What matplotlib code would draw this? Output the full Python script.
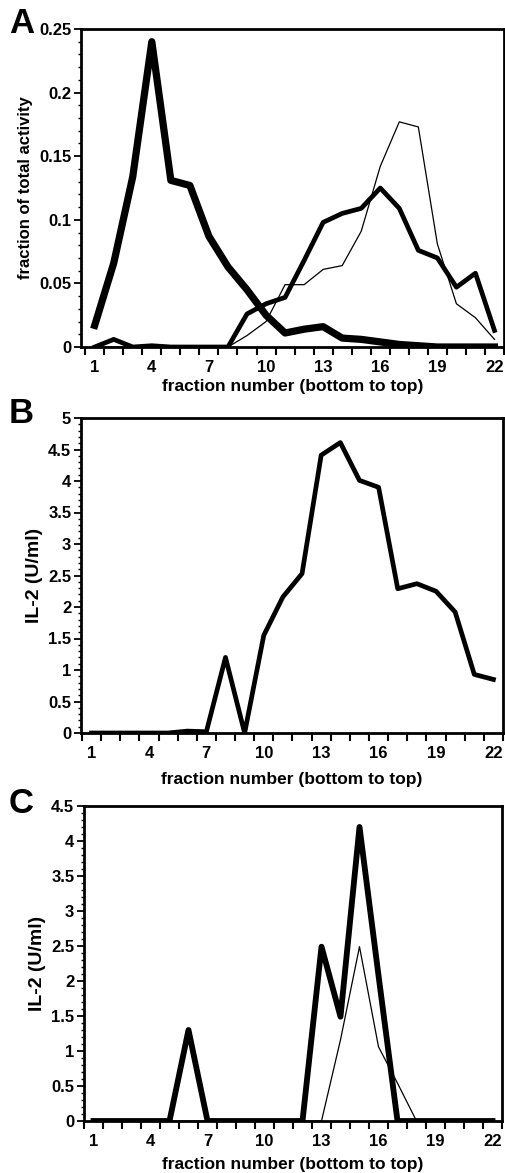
import matplotlib
matplotlib.use("Agg")
import matplotlib.pyplot as plt
from matplotlib.ticker import FixedLocator, MultipleLocator, FuncFormatter

plt.rcParams['font.family'] = ['Liberation Sans', 'DejaVu Sans']
plt.rcParams['font.weight'] = 'bold'

fractions = list(range(1, 23))
tick_labels = [1, 4, 7, 10, 13, 16, 19, 22]

# Panel A: fraction of total activity
a_heavy = [0.017, 0.066, 0.134, 0.240, 0.131, 0.127, 0.087, 0.063, 0.045, 0.025, 0.011,
           0.014, 0.016, 0.007, 0.006, 0.004, 0.002, 0.001, 0.0, 0.0, 0.0, 0.0]
a_medium = [0.0, 0.006, 0.0, 0.001, 0.0, 0.0, 0.0, 0.0, 0.026, 0.034, 0.039,
            0.068, 0.098, 0.105, 0.109, 0.125, 0.109, 0.076, 0.070, 0.047, 0.058, 0.013]
a_thin = [0.0, 0.0, 0.0, 0.0, 0.0, 0.0, 0.0, 0.0, 0.009, 0.02, 0.049,
          0.049, 0.061, 0.064, 0.091, 0.142, 0.177, 0.173, 0.081, 0.034, 0.023, 0.006]

# Panel B: IL-2 (U/ml)
b_vals = [0.0, 0.0, 0.0, 0.0, 0.0, 0.03, 0.02, 1.20, 0.0, 1.55, 2.16,
          2.53, 4.41, 4.61, 4.01, 3.90, 2.29, 2.37, 2.25, 1.92, 0.93, 0.85]

# Panel C: IL-2 (U/ml)
c_heavy = [0.0, 0.0, 0.0, 0.0, 0.0, 1.30, 0.0, 0.0, 0.0, 0.0, 0.0,
           0.0, 2.49, 1.49, 4.20, 2.08, 0.0, 0.0, 0.0, 0.0, 0.0, 0.0]
c_thin = [0.0, 0.0, 0.0, 0.0, 0.0, 0.0, 0.0, 0.0, 0.0, 0.0, 0.0,
          0.0, 0.0, 1.16, 2.49, 1.06, 0.54, 0.0, 0.0, 0.0, 0.0, 0.0]

W, H = 505, 1173
fig = plt.figure(figsize=(W / 100, H / 100), dpi=100)


def make_axes(left, right, top, bottom):
    return fig.add_axes([left / W, 1 - bottom / H, (right - left) / W, (bottom - top) / H])


def gfmt(v, p):
    s = ("%.2f" % v).rstrip('0').rstrip('.')
    return s if s else "0"


def style(ax, xlim, ylim, ymajor, yminor, ylabel, ylabsize, xlabpad):
    ax.set_xlim(*xlim)
    ax.set_ylim(*ylim)
    ax.xaxis.set_major_locator(FixedLocator([x - 0.5 for x in range(1, 24)]))
    ax.xaxis.set_major_formatter(FuncFormatter(lambda v, p: ""))
    ax.xaxis.set_minor_locator(FixedLocator(tick_labels))
    ax.xaxis.set_minor_formatter(FuncFormatter(lambda v, p: "%d" % round(v)))
    ax.tick_params(axis='x', which='major', direction='out', length=6, width=1.5)
    ax.tick_params(axis='x', which='minor', length=0, pad=9, labelsize=12)
    ax.yaxis.set_major_locator(MultipleLocator(ymajor))
    ax.yaxis.set_minor_locator(MultipleLocator(yminor))
    ax.yaxis.set_major_formatter(FuncFormatter(gfmt))
    ax.tick_params(axis='y', which='major', direction='out', length=5, width=1.3, labelsize=12, pad=2)
    ax.tick_params(axis='y', which='minor', direction='out', length=2, width=1)
    for s in ax.spines.values():
        s.set_linewidth(2)
    ax.set_xlabel("fraction number (bottom to top)", fontsize=12.5, fontweight='bold', labelpad=xlabpad)
    ax.set_ylabel(ylabel, fontsize=ylabsize, fontweight='bold', labelpad=4)


axA = make_axes(81, 504, 29, 347)
axA.plot(fractions, a_thin, color='black', lw=0.9, solid_joinstyle='miter')
axA.plot(fractions, a_medium, color='black', lw=3.4, solid_joinstyle='round')
axA.plot(fractions, a_heavy, color='black', lw=5.2, solid_joinstyle='round')
style(axA, (0.28, 22.5), (0, 0.25), 0.05, 0.01, "fraction of total activity", 12, 3)

axB = make_axes(81, 503, 418, 733)
axB.plot(fractions, b_vals, color='black', lw=3.4, solid_joinstyle='round')
style(axB, (0.45, 22.5), (0, 5), 0.5, 0.1, "IL-2 (U/ml)", 14, 8)

axC = make_axes(84, 502, 806, 1121)
axC.plot(fractions, c_thin, color='black', lw=0.9)
axC.plot(fractions, c_heavy, color='black', lw=4.2, solid_joinstyle='round')
style(axC, (0.5, 22.5), (0, 4.5), 0.5, 0.1, "IL-2 (U/ml)", 14, 6)

fig.text(9 / W, 1 - 33 / H, "A", fontsize=25, fontweight='heavy', va='baseline')
fig.text(9 / W, 1 - 423 / H, "B", fontsize=25, fontweight='heavy', va='baseline')
fig.text(9 / W, 1 - 813 / H, "C", fontsize=25, fontweight='heavy', va='baseline')

fig.savefig("out.png", dpi=100)
